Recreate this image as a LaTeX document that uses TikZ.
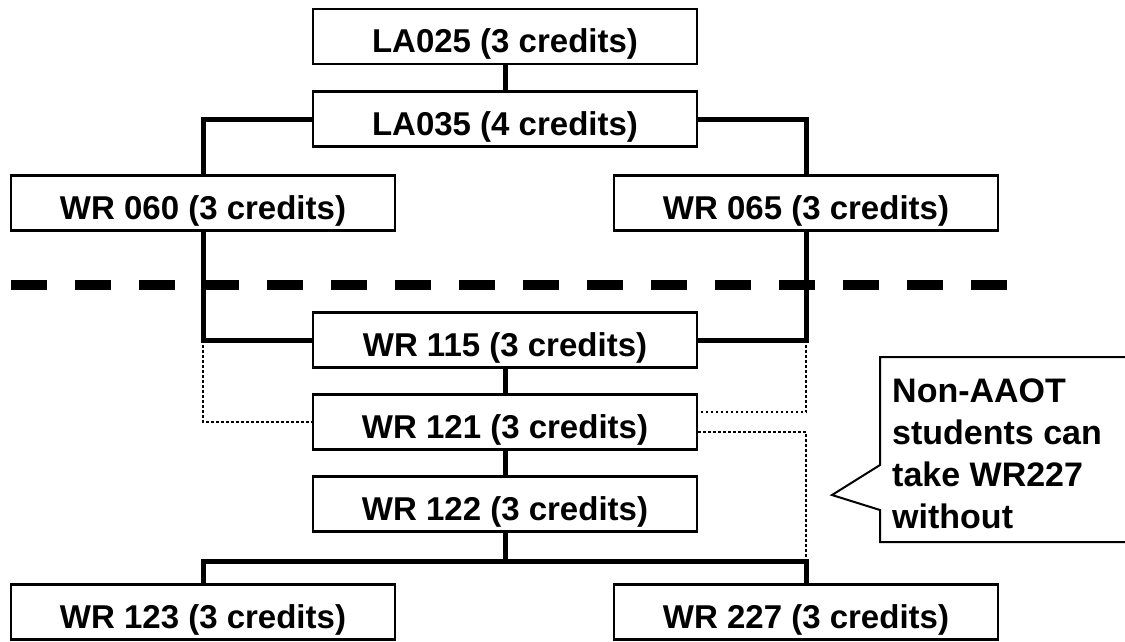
\documentclass[tikz,border=0pt]{standalone}
\usepackage{fontspec}
\setmainfont{Liberation Sans}
\begin{document}
\begin{tikzpicture}[x=1pt,y=-1pt,
  box/.style={draw=black,line width=2.5pt,minimum width=384pt,minimum height=55pt,inner sep=0pt,fill=white,
    text height=32pt,text depth=0pt,
    font=\fontsize{33}{40}\selectfont\bfseries},
  conn/.style={line width=5pt},
  dots/.style={line width=2.5pt,dash pattern=on 2.5pt off 2.5pt},
  sep/.style={line width=10pt,dash pattern=on 36pt off 28pt},
  note/.style={line width=2pt,fill=white},
  notetext/.style={align=left,inner sep=0pt,font=\fontsize{34}{41.7}\selectfont\bfseries}]
\clip (0,0) rectangle (1125,641);
\fill[white] (0,0) rectangle (1125,641);
% separator
\draw[sep] (11,285) -- (1007,285);
% boxes
\node[box] (la025) at (505,36.5) {LA025 (3 credits)};
\node[box] (la035) at (505,119) {LA035 (4 credits)};
\node[box] (wr060) at (203,203) {WR 060 (3 credits)};
\node[box] (wr065) at (806,203) {WR 065 (3 credits)};
\node[box] (wr115) at (505,340) {WR 115 (3 credits)};
\node[box] (wr121) at (505,422) {WR 121 (3 credits)};
\node[box] (wr122) at (505,504) {WR 122 (3 credits)};
\node[box] (wr123) at (203,612) {WR 123 (3 credits)};
\node[box] (wr227) at (806,612) {WR 227 (3 credits)};
\coordinate (bar) at (505,561);
% solid connectors
\draw[conn] (la025) -- (la035);
\draw[conn] (la035.west) -| (wr060.north);
\draw[conn] (la035.east) -| (wr065.north);
\draw[conn] (wr060.south) |- (wr115.west);
\draw[conn] (wr065.south) |- (wr115.east);
\draw[conn] (wr115) -- (wr121);
\draw[conn] (wr121) -- (wr122);
\draw[conn] (wr122.south) -- (bar);
\draw[conn] (wr123.north) |- (bar) -| (wr227.north);
% dotted connectors
\draw[dots] (wr115.west -| wr060.south) |- (wr121.west);
\draw[dots] (wr115.east -| wr065.south) |- ([yshift=10pt]wr121.east);
\draw[dots] ([yshift=-10pt]wr121.east) -| (bar -| wr227.north);
% callout
\draw[note] (1135,357) -- (880,357) -- (880,465) -- (832,495) -- (880,510) -- (880,542) -- (1135,542);
\node[notetext,anchor=base west] (notetxt) at (892,528) {Non-AAOT\\students can\\take WR227\\without};
\end{tikzpicture}
\end{document}
